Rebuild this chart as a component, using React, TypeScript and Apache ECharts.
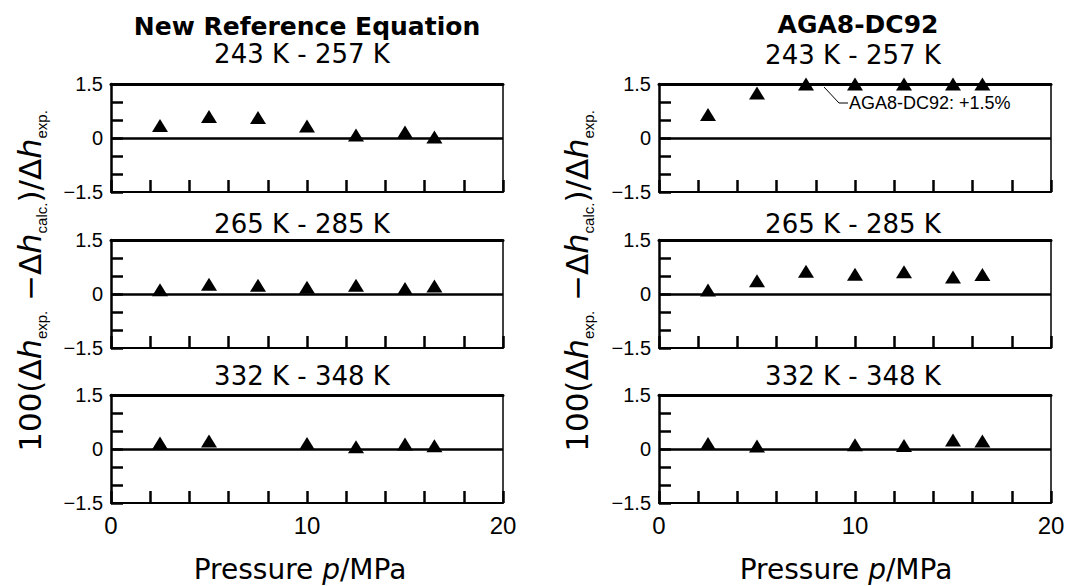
import { useEffect, useRef } from 'react';
import * as echarts from 'echarts';

// ---- data ----
const pressureFull = [2.5, 5, 7.5, 10, 12.5, 15, 16.5];
const pressureHigh = [2.5, 5, 10, 12.5, 15, 16.5];

const newRef243 = [0.35, 0.6, 0.57, 0.33, 0.08, 0.17, 0.03];
const aga243 = [0.65, 1.25, 1.5, 1.5, 1.5, 1.5, 1.5];
const newRef265 = [0.12, 0.27, 0.24, 0.19, 0.24, 0.15, 0.22];
const aga265 = [0.11, 0.37, 0.63, 0.55, 0.62, 0.47, 0.54];
const newRef332 = [0.17, 0.22, 0.15, 0.06, 0.14, 0.09];
const aga332 = [0.15, 0.08, 0.12, 0.1, 0.25, 0.22];

const columnTitles = ['New Reference Equation', 'AGA8-DC92'];
const panelTitles = ['243 K - 257 K', '265 K - 285 K', '332 K - 348 K'];
const xTickLabels = [0, 10, 20];
const yTickLabels = [-1.5, 0, 1.5];
const annotationText = 'AGA8-DC92: +1.5%';

const panels = [
  [pressureFull, newRef243], [pressureFull, aga243],
  [pressureFull, newRef265], [pressureFull, aga265],
  [pressureHigh, newRef332], [pressureHigh, aga332],
];

const FT = '"DejaVu Sans", sans-serif';
const FA = '"Liberation Sans", Arial, sans-serif';

const gridLeft = [111, 659];
const gridTop = [84, 240, 395];
const gridW = 392;
const gridH = 108;
const colCenter = [302, 853];
const titleY = [26, 24];
const subY = [[54, 224, 376], [55, 224, 376]];

function buildOption() {
  const grid: any[] = [];
  const xAxis: any[] = [];
  const yAxis: any[] = [];
  const series: any[] = [];
  for (let r = 0; r < 3; r++) {
    for (let c = 0; c < 2; c++) {
      const g = r * 2 + c;
      grid.push({ left: gridLeft[c], top: gridTop[r], width: gridW, height: gridH });
      xAxis.push({
        type: 'value', gridIndex: g, min: 0, max: 20, interval: 2, position: 'bottom',
        axisLine: { onZero: false, lineStyle: { color: '#000', width: 2 } },
        axisTick: { inside: true, length: 12, lineStyle: { color: '#000', width: 2.5 } },
        splitLine: { show: false },
        axisLabel: {
          show: r === 2, margin: 10, color: '#000', fontFamily: FA, fontSize: 24,
          formatter: (v: number) => (xTickLabels.includes(v) ? String(v) : ''),
        },
      });
      xAxis.push({
        type: 'value', gridIndex: g, min: 0, max: 20, position: 'top',
        axisLine: { onZero: false, lineStyle: { color: '#000', width: 3 } },
        axisTick: { show: false }, axisLabel: { show: false }, splitLine: { show: false },
      });
      yAxis.push({
        type: 'value', gridIndex: g, min: -1.5, max: 1.5, interval: 0.5, position: 'left',
        axisLine: { onZero: false, lineStyle: { color: '#000', width: 2.5 } },
        axisTick: { inside: true, length: 12, lineStyle: { color: '#000', width: 2.5 } },
        splitLine: { show: false },
        axisLabel: {
          margin: 8, color: '#000', fontFamily: FA, fontSize: 20,
          formatter: (v: number) =>
            yTickLabels.includes(v) ? (v < 0 ? '\u2212' + Math.abs(v) : String(v)) : '',
        },
      });
      yAxis.push({
        type: 'value', gridIndex: g, min: -1.5, max: 1.5, position: 'right',
        axisLine: { onZero: false, lineStyle: { color: '#000', width: 1.5 } },
        axisTick: { show: false }, axisLabel: { show: false }, splitLine: { show: false },
      });
      const [xs, ys] = panels[g];
      series.push({
        type: 'scatter', xAxisIndex: 2 * g, yAxisIndex: 2 * g,
        symbol: 'triangle', symbolSize: [16, 13], clip: false, z: 5,
        itemStyle: { color: '#000', opacity: 1 },
        data: xs.map((x, i) => [x, ys[i]]),
        markLine: {
          silent: true, symbol: 'none', label: { show: false },
          lineStyle: { color: '#000', width: 2.5, type: 'solid', opacity: 1 },
          data: [{ yAxis: 0 }],
        },
      });
    }
  }

  const graphic: any[] = [];
  for (let c = 0; c < 2; c++) {
    graphic.push({
      type: 'text', x: colCenter[c] + 5, y: titleY[c],
      style: { text: columnTitles[c], fontFamily: FT, fontWeight: 'bold', fontSize: 25, fill: '#000', align: 'center', verticalAlign: 'middle' },
    });
    for (let r = 0; r < 3; r++) {
      graphic.push({
        type: 'text', x: colCenter[c], y: subY[c][r],
        style: { text: panelTitles[r], fontFamily: FT, fontSize: 26, fill: '#000', align: 'center', verticalAlign: 'middle' },
      });
    }
    graphic.push({
      type: 'text', x: c === 0 ? 300 : 846, y: 569,
      style: {
        text: '{n|Pressure }{i|p}{n|/MPa}', fill: '#000', align: 'center', verticalAlign: 'middle',
        rich: {
          n: { fontFamily: FT, fontSize: 28, fill: '#000' },
          i: { fontFamily: FT, fontSize: 28, fontStyle: 'italic', fill: '#000' },
        },
      },
    });
    graphic.push({
      type: 'text', x: c === 0 ? 30 : 577, y: 281, rotation: Math.PI / 2,
      style: {
        text: '{n|100(\u0394}{h|h}{s|exp.}{n| \u2212\u0394}{h|h}{s|calc.}{n|)/\u0394}{h|h}{s|exp.}',
        fill: '#000', align: 'center', verticalAlign: 'middle',
        rich: {
          n: { fontFamily: FT, fontSize: 31, lineHeight: 38, fill: '#000' },
          h: { fontFamily: FT, fontSize: 32, lineHeight: 38, fontStyle: 'italic', fill: '#000' },
          s: { fontFamily: FA, fontSize: 15, verticalAlign: 'bottom', fill: '#000' },
        },
      },
    });
  }
  graphic.push({
    type: 'polyline',
    shape: { points: [[824, 87], [839, 103], [848, 103]] },
    style: { stroke: '#000', lineWidth: 1, fill: 'none' },
  });
  graphic.push({
    type: 'text', x: 849, y: 103,
    style: { text: annotationText, fontFamily: FA, fontSize: 18, fill: '#000', align: 'left', verticalAlign: 'middle' },
  });

  return { animation: false, backgroundColor: '#fff', grid, xAxis, yAxis, series, graphic };
}

export default function App() {
  const ref = useRef<HTMLDivElement>(null);
  useEffect(() => {
    if (!ref.current) return;
    const chart = echarts.init(ref.current, undefined, { renderer: 'svg' });
    chart.setOption(buildOption() as any);
    return () => chart.dispose();
  }, []);
  return (
    <div
      ref={ref}
      style={{ position: 'absolute', left: 0, top: 0, width: 1092, height: 586, background: '#fff' }}
    />
  );
}
